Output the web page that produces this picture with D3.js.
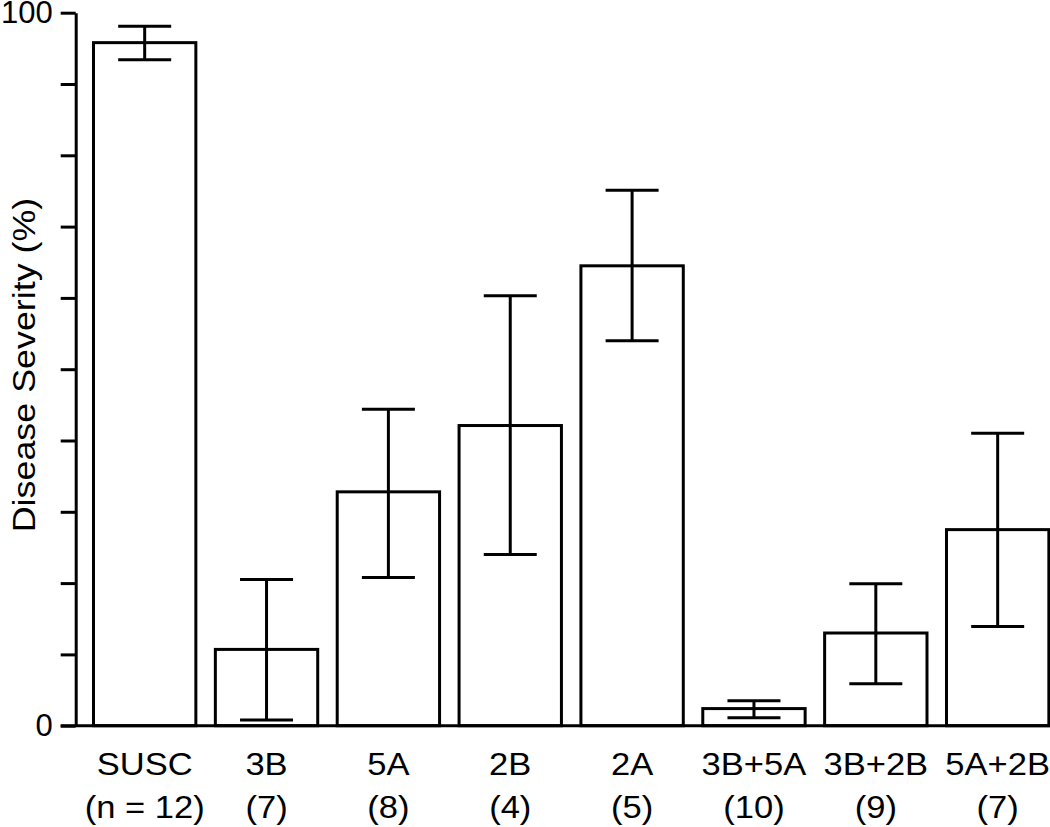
<!DOCTYPE html>
<html>
<head>
<meta charset="utf-8">
<script src="https://d3js.org/d3.v7.min.js"></script>
<style>
  html, body { margin: 0; padding: 0; background: #fff; }
  svg { display: block; }
  text { font-family: "Liberation Sans", Arial, Helvetica, sans-serif; fill: #000; }
</style>
</head>
<body>
<script>
// ---- data ----
const categories = ["SUSC", "3B", "5A", "2B", "2A", "3B+5A", "3B+2B", "5A+2B"];
const sampleSizes = ["(n = 12)", "(7)", "(8)", "(4)", "(5)", "(10)", "(9)", "(7)"];
const means = [95.8, 10.7, 32.8, 42.1, 64.5, 2.4, 13.0, 27.5];
const errUpper = [98.1, 20.5, 44.4, 60.3, 75.1, 3.5, 19.9, 41.0];
const errLower = [93.4, 0.8, 20.8, 24.0, 54.0, 1.1, 5.9, 13.9];
const yTicks = [0, 10, 20, 30, 40, 50, 60, 70, 80, 90, 100];
const yTickLabels = ["0", "", "", "", "", "", "", "", "", "", "100"];
const yTitle = "Disease Severity (%)";

// ---- layout ----
const W = 1050, H = 827;
const axisX = 75.7;
const svg = d3.select("body").append("svg").attr("width", W).attr("height", H);

const y = d3.scaleLinear().domain([0, 100]).range([725.7, 12.7]);
const x = d3.scaleBand().domain(categories).range([83.75, 1058.6])
  .paddingInner(0.16).paddingOuter(0.08);

const rows = categories.map((c, i) => ({
  cat: c, n: sampleSizes[i], mean: means[i], hi: errUpper[i], lo: errLower[i]
}));

// bars
svg.append("g").selectAll("rect").data(rows).join("rect")
  .attr("x", d => x(d.cat))
  .attr("y", d => y(d.mean))
  .attr("width", x.bandwidth())
  .attr("height", d => y(0) - y(d.mean))
  .attr("fill", "#fff")
  .attr("stroke", "#000")
  .attr("stroke-width", 3);

// error bars
const capW = 53;
const eb = svg.append("g").attr("stroke", "#000").attr("stroke-width", 3);
rows.forEach(d => {
  const cx = x(d.cat) + x.bandwidth() / 2;
  eb.append("line").attr("x1", cx).attr("x2", cx).attr("y1", y(d.hi)).attr("y2", y(d.lo));
  eb.append("line").attr("x1", cx - capW / 2).attr("x2", cx + capW / 2).attr("y1", y(d.hi)).attr("y2", y(d.hi));
  eb.append("line").attr("x1", cx - capW / 2).attr("x2", cx + capW / 2).attr("y1", y(d.lo)).attr("y2", y(d.lo));
});

// baseline
svg.append("line")
  .attr("x1", axisX - 15).attr("x2", W)
  .attr("y1", y(0)).attr("y2", y(0))
  .attr("stroke", "#000").attr("stroke-width", 3);

// y axis
const yAxis = d3.axisLeft(y)
  .tickValues(yTicks)
  .tickSize(15)
  .tickSizeOuter(0)
  .tickPadding(8)
  .tickFormat((d, i) => yTickLabels[i]);
const ga = svg.append("g").attr("transform", `translate(${axisX},0)`).call(yAxis);
ga.select(".domain").attr("stroke", "#000").attr("stroke-width", 3);
ga.selectAll(".tick line").attr("stroke", "#000").attr("stroke-width", 3);
ga.selectAll(".tick text")
  .attr("font-family", "'Liberation Sans', Arial, sans-serif")
  .attr("font-size", 31)
  .attr("fill", "#000");

// category labels
const lab = svg.append("g").attr("font-size", 32).attr("text-anchor", "middle");
rows.forEach(d => {
  const cx = x(d.cat) + x.bandwidth() / 2;
  lab.append("text")
    .attr("transform", `translate(${cx},775) scale(1.08,1)`)
    .text(d.cat);
  lab.append("text")
    .attr("transform", `translate(${cx},818) scale(1.08,1)`)
    .text(d.n);
});

// y title
svg.append("text")
  .attr("transform", "translate(35,365) rotate(-90) scale(1.12,1)")
  .attr("text-anchor", "middle")
  .attr("font-size", 32)
  .text(yTitle);
</script>
</body>
</html>
